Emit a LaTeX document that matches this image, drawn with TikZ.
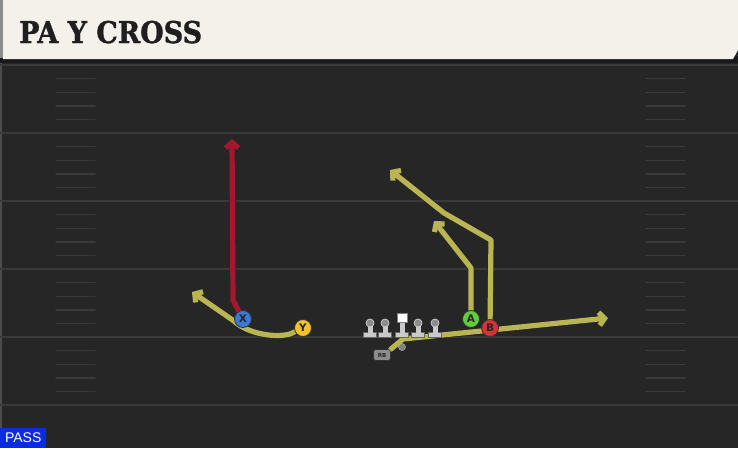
\documentclass[tikz,border=0pt]{standalone}
\usepackage{fontspec}
\usetikzlibrary{arrows.meta}
\setmainfont{Liberation Sans}
\newfontfamily\headfont{DejaVu Serif Condensed Bold}[FakeBold=1.2]
\newfontfamily\labfont{DejaVu Sans Bold}
\definecolor{fieldbg}{HTML}{262626}
\definecolor{yardln}{HTML}{3A3A3A}
\definecolor{hashln}{HTML}{3A3A3A}
\definecolor{headbg}{HTML}{F4F1EA}
\definecolor{routeY}{HTML}{B8B552}
\definecolor{routeR}{HTML}{A3182F}
\definecolor{plX}{HTML}{3B78D4}
\definecolor{plY}{HTML}{F2C12E}
\definecolor{plA}{HTML}{62CC3C}
\definecolor{plB}{HTML}{D9303A}
\definecolor{lineman}{HTML}{C9C9C9}
\definecolor{passblue}{HTML}{0A2BE0}
\tikzset{
  route/.style={line width=5.2pt, line join=round, line cap=round,
    preaction={draw=black!85, line width=6.8pt}},
  tip/.style={-{Straight Barb[length=5.5pt,width=13pt]}},
  player/.style={circle, draw=black!80, line width=0.8pt, minimum size=17pt, inner sep=0pt,
    font=\labfont\fontsize{10.5}{10.5}\selectfont, text=black!85},
  yard/.style={draw=yardln, line width=1.6pt},
  hash/.style={draw=hashln, line width=1.4pt, line cap=round},
}
\begin{document}
\begin{tikzpicture}[x=1pt,y=-1pt]
\useasboundingbox (0,0) rectangle (738,448);
% field
\fill[fieldbg] (0,0) rectangle (738,448);
\draw[draw=black!70!white, line width=2pt] (1,60) -- (1,448);
% yard lines
\foreach \yy in {65,133,201,269,337,405} {\draw[yard] (0,\yy) -- (738,\yy);}
% hash marks
\foreach \k in {0,...,4} {
  \foreach \j in {1,...,4} {
    \pgfmathsetmacro{\hy}{65+68*\k+13.6*\j}
    \draw[hash] (56,\hy) -- (95,\hy);
    \draw[hash] (646,\hy) -- (685,\hy);
  }
}
% header
\fill[black!90] (0,56) rectangle (738,63);
\fill[black!45] (0,0) rectangle (4,58);
\fill[headbg] (3,0) -- (738,0) -- (738,50) -- (733,59) -- (3,59) -- cycle;
\node[anchor=base west, inner sep=0pt, text=black!88, font=\headfont\fontsize{30}{30}\selectfont] (title) at (19,43) {PA Y CROSS};
% PASS label
\node[fill=passblue, text=white, anchor=south west, inner sep=0pt, minimum width=46pt, minimum height=20pt,
  font=\fontsize{14}{14}\selectfont] (pass) at (0,448) {PASS};
% coordinates for routes
\coordinate (xr1) at (233,300);
\coordinate (xr2) at (232,139);
\coordinate (yr1) at (290,334);
\coordinate (yr2) at (262,337);
\coordinate (yr3) at (234,321);
\coordinate (yr4) at (192,292);
\coordinate (ar1) at (471,268);
\coordinate (ar2) at (434,221);
\coordinate (br1) at (491,240);
\coordinate (br2) at (444,213);
\coordinate (br3) at (390,170);
\coordinate (rr1) at (403,339);
\coordinate (rr2) at (608,318);
% player nodes (placed first for names, redrawn on top)
\node[player, draw=none] (X) at (243,319) {};
\node[player, draw=none] (Y) at (303,328) {};
\node[player, draw=none] (A) at (471,319) {};
\node[player, draw=none] (B) at (490,328) {};
\node[draw=none, minimum width=17pt, minimum height=11pt] (RB) at (382,355) {};
% routes
\draw[route, draw=routeY, tip] (RB.north east) -- (rr1) -- (rr2);
\draw[route, draw=routeR, tip] (X) -- (xr1) -- (xr2);
\draw[route, draw=routeY, tip] (Y) -- (yr1) .. controls (275,338) and (248,334) .. (yr3) -- (yr4);
\draw[route, draw=routeY, tip] (A) -- (ar1) -- (ar2);
\draw[route, draw=routeY, tip] (B) -- (br1) -- (br2) -- (br3);
% offensive line
\foreach \lx/\nm in {370/lt,385/lg,418/rg,435/rt} {
  \fill[lineman, draw=black!60, line width=0.4pt] (\lx-6.5,332) rectangle (\lx+6.5,337.5);
  \fill[lineman] (\lx-2.5,324) rectangle (\lx+2.5,333);
  \node[circle, fill=black!45, draw=lineman, line width=0.8pt, minimum size=8pt, inner sep=0pt] (\nm) at (\lx,323) {};
}
\fill[lineman, draw=black!60, line width=0.4pt] (395.5,332) rectangle (408.5,337.5);
\fill[lineman] (399.5,322) rectangle (404.5,333);
\node[rectangle, fill=white, draw=black!50, line width=0.4pt, minimum size=9.5pt, inner sep=0pt] (C) at (402,317.5) {};
% QB
\node[circle, fill=black!50, draw=black!30, line width=0.5pt, minimum size=7pt, inner sep=0pt] (QB) at (402,347) {};
% RB
\node[rounded corners=2.5pt, fill=black!45, draw=black!80, line width=0.6pt, minimum width=17pt, minimum height=11pt,
  inner sep=0pt, text=black!85, font=\labfont\fontsize{5.5}{5.5}\selectfont] at (382,355) {RB};
% players on top
\node[player, fill=plX] at (X) {X};
\node[player, fill=plY] at (Y) {Y};
\node[player, fill=plA] at (A) {A};
\node[player, fill=plB] at (B) {B};
\end{tikzpicture}
\end{document}
